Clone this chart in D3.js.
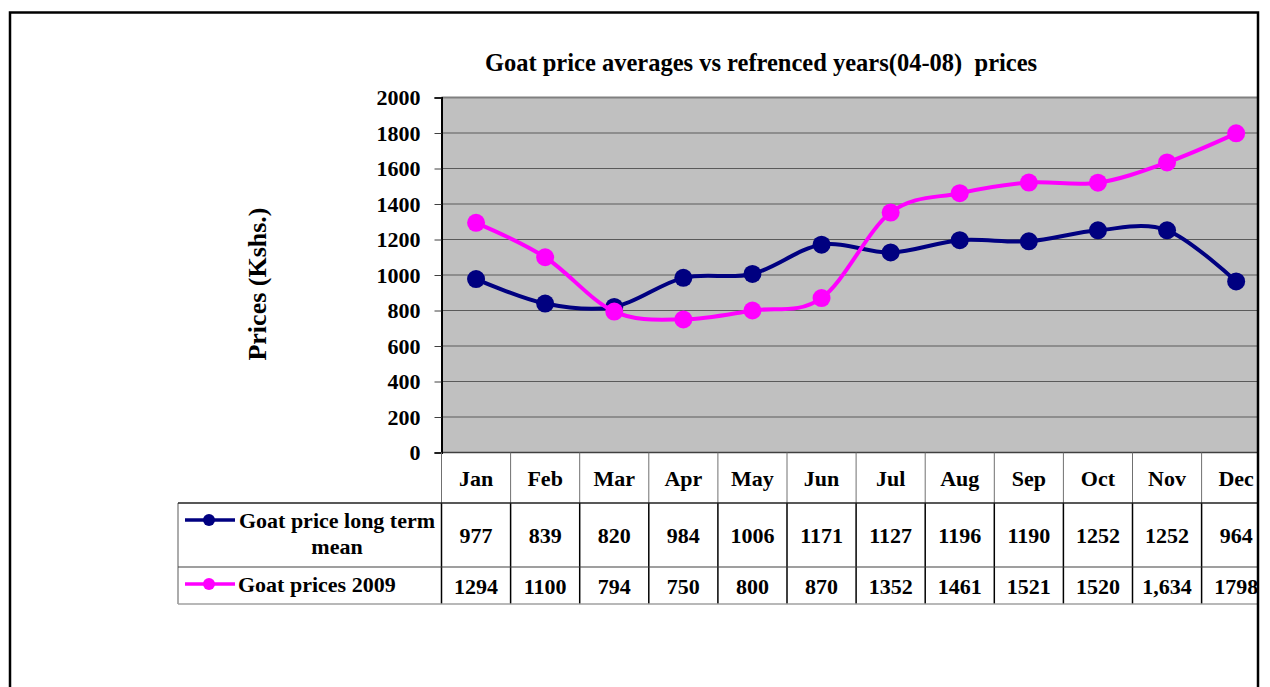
<!DOCTYPE html>
<html>
<head>
<meta charset="utf-8">
<script src="https://cdn.jsdelivr.net/npm/d3@7"></script>
<style>
  html, body { margin: 0; padding: 0; background: #fff; }
  svg { display: block; }
  text { font-family: "Liberation Serif", "Times New Roman", serif; font-weight: bold; fill: #000; }
</style>
</head>
<body>
<svg id="chart" width="1270" height="687"></svg>
<script>
// ---- data ----
const months = ["Jan","Feb","Mar","Apr","May","Jun","Jul","Aug","Sep","Oct","Nov","Dec"];
const longTermMean = [977, 839, 820, 984, 1006, 1171, 1127, 1196, 1190, 1252, 1252, 964];
const prices2009 = [1294, 1100, 794, 750, 800, 870, 1352, 1461, 1521, 1520, 1634, 1798];
const longTermLabels = ["977","839","820","984","1006","1171","1127","1196","1190","1252","1252","964"];
const prices2009Labels = ["1294","1100","794","750","800","870","1352","1461","1521","1520","1,634","1798"];
const yTicks = [0, 200, 400, 600, 800, 1000, 1200, 1400, 1600, 1800, 2000];
const seriesNames = ["Goat price long term mean", "Goat prices 2009"];
const chartTitle = "Goat price averages vs refrenced years(04-08)  prices";
const yTitle = "Prices (Kshs.)";

// ---- layout ----
const svg = d3.select("#chart");
const plotL = 441.5, plotT = 97.5, plotB = 452.5, step = 69.1;
const plotR = plotL + step * months.length;
const clipR = 1257;
const row1T = 503, row2T = 567, row2B = 604;
const legL = 178;

const x = d3.scaleBand().domain(months).range([plotL, plotR]).padding(0);
const xc = m => x(m) + x.bandwidth() / 2;
const y = d3.scaleLinear().domain([0, 2000]).range([plotB, plotT]);

svg.append("defs").append("clipPath").attr("id", "clip")
  .append("rect").attr("x", 0).attr("y", 0).attr("width", clipR).attr("height", 687);

const g = svg.append("g").attr("clip-path", "url(#clip)");

// title
g.append("text").attr("x", 761).attr("y", 71).attr("text-anchor", "middle")
  .style("font-size", "24.5px").style("white-space", "pre").text(chartTitle);

// plot background
g.append("rect").attr("x", plotL).attr("y", plotT).attr("width", plotR - plotL).attr("height", plotB - plotT)
  .attr("fill", "#c0c0c0");

// gridlines
g.append("g").selectAll("line").data(yTicks.filter(d => d > 0 && d < 2000)).join("line")
  .attr("x1", plotL).attr("x2", plotR).attr("y1", d => y(d)).attr("y2", d => y(d))
  .attr("stroke", "#5a5a5a").attr("stroke-width", 1.2);
g.append("line").attr("x1", plotL).attr("x2", plotR).attr("y1", y(2000)).attr("y2", y(2000))
  .attr("stroke", "#808080").attr("stroke-width", 2);
g.append("line").attr("x1", plotL).attr("x2", plotR).attr("y1", y(0)).attr("y2", y(0))
  .attr("stroke", "#404040").attr("stroke-width", 1.5);

// y axis
const yAxis = d3.axisLeft(y).tickValues(yTicks).tickSize(7).tickPadding(14).tickFormat(d3.format("d"));
const ya = g.append("g").attr("transform", `translate(${plotL},0)`).call(yAxis);
ya.select(".domain").attr("stroke", "#000").attr("stroke-width", 2);
ya.selectAll(".tick line").attr("stroke", "#404040");
ya.selectAll(".tick text").style("font-size", "22px").attr("dy", "0.34em")
  .style("font-family", "'Liberation Serif', serif").style("font-weight", "bold");

// y title
g.append("text").attr("transform", "translate(266,284) rotate(-90)").attr("text-anchor", "middle")
  .style("font-size", "26px").text(yTitle);

// series lines
const line = d3.line().x((d, i) => xc(months[i])).y(d => y(d)).curve(d3.curveCardinal.tension(0));
const series = [
  { vals: longTermMean, color: "#000080" },
  { vals: prices2009, color: "#ff00ff" }
];
series.forEach(s => {
  g.append("path").datum(s.vals).attr("d", line).attr("fill", "none")
    .attr("stroke", s.color).attr("stroke-width", 4);
  g.append("g").selectAll("circle").data(s.vals).join("circle")
    .attr("cx", (d, i) => xc(months[i])).attr("cy", d => y(d)).attr("r", 9).attr("fill", s.color);
});

// ---- data table ----
const tbl = g.append("g");
tbl.selectAll("text.cat").data(months).join("text").attr("class", "cat")
  .attr("x", d => xc(d)).attr("y", 486).attr("text-anchor", "middle").style("font-size", "22px").text(d => d);
tbl.selectAll("line.hv").data(d3.range(months.length + 1)).join("line").attr("class", "hv")
  .attr("x1", i => plotL + i * x.bandwidth()).attr("x2", i => plotL + i * x.bandwidth())
  .attr("y1", plotB).attr("y2", row1T).attr("stroke", "#707070").attr("stroke-width", 1);
tbl.selectAll("line.dv").data(d3.range(months.length + 1)).join("line").attr("class", "dv")
  .attr("x1", i => plotL + i * x.bandwidth()).attr("x2", i => plotL + i * x.bandwidth())
  .attr("y1", row1T).attr("y2", row2B).attr("stroke", "#000").attr("stroke-width", 1.5);
tbl.append("line").attr("x1", legL).attr("x2", legL).attr("y1", row1T).attr("y2", row2B)
  .attr("stroke", "#909090").attr("stroke-width", 1.5);
tbl.append("line").attr("x1", legL).attr("x2", plotR).attr("y1", row1T).attr("y2", row1T)
  .attr("stroke", "#202020").attr("stroke-width", 1.5);
tbl.append("line").attr("x1", legL).attr("x2", plotR).attr("y1", row2T).attr("y2", row2T)
  .attr("stroke", "#404040").attr("stroke-width", 1.2);
tbl.append("line").attr("x1", legL).attr("x2", plotR).attr("y1", row2B).attr("y2", row2B)
  .attr("stroke", "#a0a0a0").attr("stroke-width", 1.5);

tbl.selectAll("text.v1").data(longTermLabels).join("text").attr("class", "v1")
  .attr("x", (d, i) => xc(months[i])).attr("y", 543).attr("text-anchor", "middle").style("font-size", "22px").text(d => d);
tbl.selectAll("text.v2").data(prices2009Labels).join("text").attr("class", "v2")
  .attr("x", (d, i) => xc(months[i])).attr("y", 594).attr("text-anchor", "middle").style("font-size", "22px").text(d => d);

const keys = [
  { cy: 520, color: "#000080" },
  { cy: 584, color: "#ff00ff" }
];
keys.forEach(k => {
  tbl.append("line").attr("x1", 185).attr("x2", 235).attr("y1", k.cy).attr("y2", k.cy)
    .attr("stroke", k.color).attr("stroke-width", 3.5);
  tbl.append("circle").attr("cx", 209).attr("cy", k.cy).attr("r", 6).attr("fill", k.color);
});
tbl.append("text").attr("x", 337).attr("y", 528).attr("text-anchor", "middle").style("font-size", "22px").text("Goat price long term");
tbl.append("text").attr("x", 337).attr("y", 554).attr("text-anchor", "middle").style("font-size", "22px").text("mean");
tbl.append("text").attr("x", 238).attr("y", 592).style("font-size", "22px").text(seriesNames[1]);

// outer frame
svg.append("rect").attr("x", 10).attr("y", 12.5).attr("width", 1248).attr("height", 700)
  .attr("fill", "none").attr("stroke", "#000").attr("stroke-width", 2.5);
</script>
</body>
</html>
